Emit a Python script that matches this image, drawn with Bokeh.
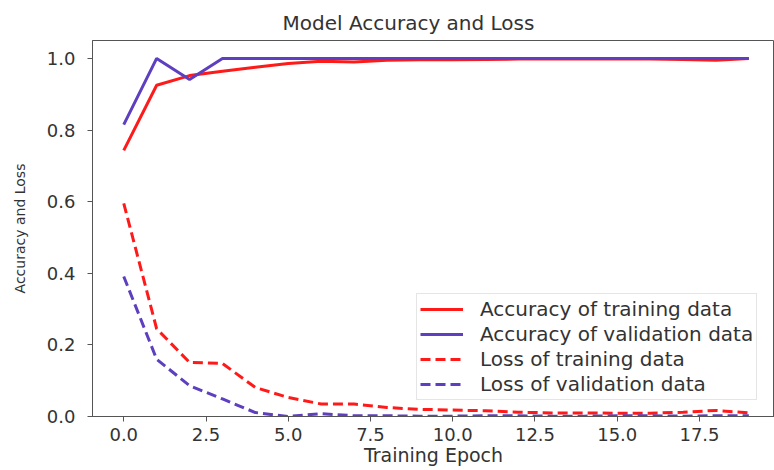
from bokeh.plotting import figure
from bokeh.models import Range1d, FixedTicker, PrintfTickFormatter
from bokeh.embed import file_html
from bokeh.resources import INLINE

epochs = list(range(20))
train_acc = [0.743, 0.925, 0.952, 0.964, 0.975, 0.986, 0.992, 0.990, 0.995, 0.996,
             0.996, 0.997, 0.998, 0.998, 0.998, 0.998, 0.998, 0.997, 0.995, 1.0]
val_acc = [0.815, 1.0, 0.941, 1.0, 1.0, 1.0, 1.0, 1.0, 1.0, 1.0,
           1.0, 1.0, 1.0, 1.0, 1.0, 1.0, 1.0, 1.0, 1.0, 1.0]
train_loss = [0.595, 0.245, 0.151, 0.148, 0.081, 0.053, 0.035, 0.035, 0.025, 0.020,
              0.018, 0.016, 0.012, 0.010, 0.010, 0.009, 0.009, 0.012, 0.017, 0.010]
val_loss = [0.391, 0.160, 0.086, 0.049, 0.011, 0.000, 0.008, 0.002, 0.002, 0.001,
            0.001, 0.002, 0.002, 0.001, 0.001, 0.002, 0.002, 0.001, 0.002, 0.002]

x_ticks = [0, 2.5, 5, 7.5, 10, 12.5, 15, 17.5]
y_ticks = [0, 0.2, 0.4, 0.6, 0.8, 1.0]
x_title = "Training Epoch"
y_title = "Accuracy and Loss"
chart_title = "Model Accuracy and Loss"

RED = "#ff1a1a"
PURPLE = "#5d3fbf"
TXT = "#333333"
FONT = "DejaVu Sans"

p = figure(width=774, height=470, output_backend="svg", toolbar_location=None,
           x_range=Range1d(-0.95, 19.78), y_range=Range1d(0, 1.05),
           min_border_left=92, min_border_right=0, min_border_top=40, min_border_bottom=54,
           background_fill_color="white", border_fill_color="white")

p.title.text = chart_title
p.title.text_font = FONT
p.title.text_font_size = "20px"
p.title.text_font_style = "normal"
p.title.text_color = TXT
p.title.align = "left"
p.title.offset = 190
p.title.standoff = 11

p.line(epochs, train_acc, color=RED, line_width=3, legend_label="Accuracy of training data")
p.line(epochs, val_acc, color=PURPLE, line_width=3, legend_label="Accuracy of validation data")
p.line(epochs, train_loss, color=RED, line_width=3, line_dash="10 5", legend_label="Loss of training data")
p.line(epochs, val_loss, color=PURPLE, line_width=3, line_dash="10 5", legend_label="Loss of validation data")

p.xgrid.visible = False
p.ygrid.visible = False
p.outline_line_color = "#555555"
p.outline_line_width = 1

for ax in (p.xaxis[0], p.yaxis[0]):
    ax.axis_line_color = "#555555"
    ax.major_tick_line_color = "#555555"
    ax.major_tick_in = 0
    ax.major_tick_out = 5
    ax.minor_tick_line_color = None
    ax.major_label_text_font = FONT
    ax.major_label_text_font_size = "18px"
    ax.major_label_text_color = TXT
    ax.axis_label_text_font = FONT
    ax.axis_label_text_font_style = "normal"
    ax.axis_label_text_color = TXT
    ax.formatter = PrintfTickFormatter(format="%.1f")

p.xaxis[0].ticker = FixedTicker(ticks=x_ticks)
p.yaxis[0].ticker = FixedTicker(ticks=y_ticks)
p.xaxis[0].axis_label = x_title
p.xaxis[0].axis_label_text_font_size = "19px"
p.xaxis[0].major_label_standoff = 6
p.xaxis[0].axis_label_standoff = 0
p.yaxis[0].axis_label = y_title
p.yaxis[0].axis_label_text_font_size = "14px"
p.yaxis[0].major_label_standoff = 12
p.yaxis[0].axis_label_standoff = 16

lg = p.legend[0]
lg.location = (324, 16)
lg.label_text_font = FONT
lg.label_text_font_size = "20px"
lg.label_text_color = TXT
lg.glyph_width = 43
lg.glyph_height = 20
lg.label_height = 21
lg.label_standoff = 17
lg.spacing = 1
lg.padding = 3
lg.margin = 0
lg.border_line_color = "#cccccc"
lg.border_line_width = 1
lg.background_fill_color = "white"
lg.background_fill_alpha = 0.85

open("out.html", "w").write(file_html(p, INLINE))
